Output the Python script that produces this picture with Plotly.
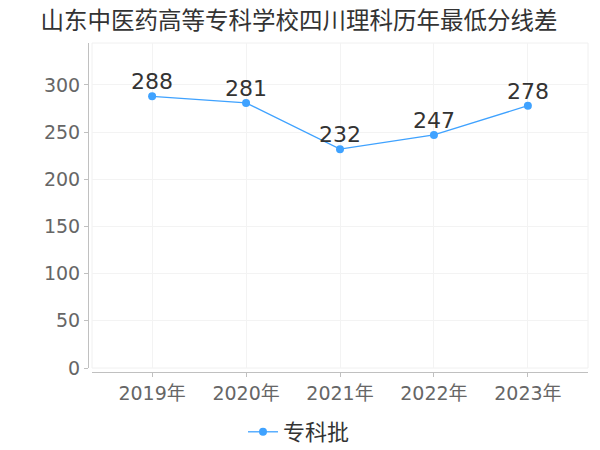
import plotly.graph_objects as go

years = ["2019年", "2020年", "2021年", "2022年", "2023年"]
scores = [288, 281, 232, 247, 278]
series_name = "专科批"
title_text = "山东中医药高等专科学校四川理科历年最低分线差"
y_ticks = [0, 50, 100, 150, 200, 250, 300]

FONT = "DejaVu Sans, Noto Sans CJK SC, sans-serif"
TFONT = "Noto Sans CJK SC, sans-serif"
OFF = 8  # page body margin
W, H = 600 - OFF, 450 - OFF
ML, MR, MT, MB = 88 - OFF, 12, 43 - OFF, 450 - 372
pw = W - ML - MR
ph = H - MT - MB
BLUE = "#3fa2ff"

fig = go.Figure()
fig.add_trace(go.Scatter(
    x=years, y=scores, name=series_name,
    mode="lines+markers",
    line=dict(color=BLUE, width=1.3),
    marker=dict(color=BLUE, size=8),
    cliponaxis=False,
))

for yr, v in zip(years, scores):
    fig.add_annotation(x=yr, y=v, text=str(v), showarrow=False,
                       xanchor="center", yanchor="bottom", yshift=0,
                       font=dict(size=22, color="#333333", family=FONT))

fig.add_shape(type="rect", xref="x domain", yref="y domain",
              x0=0, x1=1, y0=0, y1=1,
              line=dict(color="#f0f0f0", width=1), layer="below")

fig.update_layout(
    width=W, height=H,
    margin=dict(l=ML, r=MR, t=MT, b=MB, autoexpand=False),
    paper_bgcolor="white", plot_bgcolor="white",
    title=dict(text=title_text, x=(299 - OFF) / W, xref="container", xanchor="center",
               y=1 - (21 - OFF) / H, yanchor="middle",
               font=dict(size=23.5, color="#333333", family=TFONT)),
    font=dict(family=FONT),
    showlegend=True,
    legend=dict(orientation="h", x=(299 - OFF - ML) / pw, xanchor="center",
                y=-(432 - 372) / ph, yanchor="middle", itemwidth=30,
                font=dict(size=22, color="#333333", family=TFONT)),
    xaxis=dict(
        type="category", domain=[4 / pw, 1], range=[-0.64, 4.64],
        anchor="free", position=0,
        showline=True, linecolor="#c0c0c0", linewidth=1,
        ticks="outside", ticklen=4, tickcolor="#c0c0c0",
        showgrid=True, gridcolor="#f3f3f3", gridwidth=1,
        tickfont=dict(size=19, color="#666666", family=FONT),
        zeroline=False,
    ),
    yaxis=dict(
        domain=[4 / ph, 1], range=[0, 344.5],
        anchor="free", position=0,
        showline=True, linecolor="#c0c0c0", linewidth=1,
        ticks="outside", ticklen=4, tickcolor="#c0c0c0",
        tickvals=y_ticks,
        showgrid=True, gridcolor="#f3f3f3", gridwidth=1,
        tickfont=dict(size=19, color="#666666", family=FONT),
        zeroline=False,
    ),
)

fig.write_html("out.html")
